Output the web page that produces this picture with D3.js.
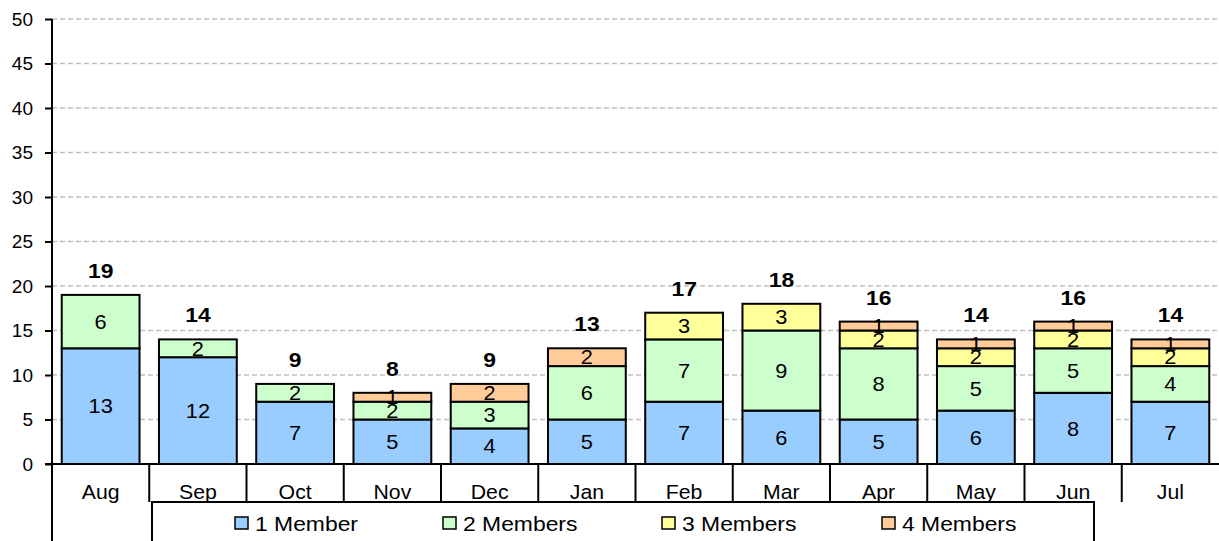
<!DOCTYPE html>
<html>
<head>
<meta charset="utf-8">
<script src="https://cdn.jsdelivr.net/npm/d3@7"></script>
<style>
  body { margin: 0; background: #fff; }
  svg { font-family: "Liberation Sans", Arial, sans-serif; }
</style>
</head>
<body>
<div id="chart"></div>
<script>
const months = ["Aug", "Sep", "Oct", "Nov", "Dec", "Jan", "Feb", "Mar", "Apr", "May", "Jun", "Jul"]
const seriesNames = ["1 Member", "2 Members", "3 Members", "4 Members"]
const seriesColors = ["#99ccff", "#ccffcc", "#ffff99", "#ffcc99"]
const oneMember = [13, 12, 7, 5, 4, 5, 7, 6, 5, 6, 8, 7]
const twoMembers = [6, 2, 2, 2, 3, 6, 7, 9, 8, 5, 5, 4]
const threeMembers = [0, 0, 0, 0, 0, 0, 3, 3, 2, 2, 2, 2]
const fourMembers = [0, 0, 0, 1, 2, 2, 0, 0, 1, 1, 1, 1]
const yTicks = [0, 5, 10, 15, 20, 25, 30, 35, 40, 45, 50]

const width = 1219, height = 541
const plotLeft = 52, plotRight = 1219, plotTop = 19, plotBottom = 464
const stretch = 1.09 // the original text is a little wider than Arial

const values = [oneMember, twoMembers, threeMembers, fourMembers]
const rows = months.map((m, i) => {
  const r = { month: m }
  seriesNames.forEach((s, k) => r[s] = values[k][i])
  return r
})
const stacked = d3.stack().keys(seriesNames)(rows)

const x = d3.scaleBand().domain(months).range([plotLeft, plotRight]).paddingInner(0.2).paddingOuter(0.1)
const y = d3.scaleLinear().domain([0, 50]).range([plotBottom, plotTop])
const cx = (m) => x(m) + x.bandwidth() / 2

const svg = d3.select("#chart").append("svg")
  .attr("width", width)
  .attr("height", height)

// dashed gridlines
svg.append("g")
  .selectAll("line")
  .data(yTicks.filter((t) => t > 0))
  .join("line")
  .attr("x1", plotLeft).attr("x2", plotRight)
  .attr("y1", (d) => y(d)).attr("y2", (d) => y(d))
  .attr("stroke", "#c0c0c0")
  .attr("stroke-width", 1.5)
  .attr("stroke-dasharray", "5,3")

// y axis
const yAxis = svg.append("g")
  .attr("transform", `translate(${plotLeft},0)`)
  .call(d3.axisLeft(y).tickValues(yTicks).tickSize(7).tickPadding(12))
yAxis.select(".domain").remove()
yAxis.selectAll(".tick line").attr("stroke", "#000").attr("stroke-width", 2)
yAxis.selectAll(".tick text").attr("fill", "#000").style("font-size", "19px").style("font-family", "Liberation Sans, Arial, sans-serif")
svg.append("line")
  .attr("x1", plotLeft).attr("x2", plotLeft).attr("y1", plotTop).attr("y2", height)
  .attr("stroke", "#000").attr("stroke-width", 2)

// bars
const layer = svg.append("g")
  .selectAll("g")
  .data(stacked)
  .join("g")
  .attr("fill", (d, i) => seriesColors[i])

layer.selectAll("rect")
  .data((d) => d.filter((p) => p[1] - p[0] > 0))
  .join("rect")
  .attr("x", (d) => x(d.data.month))
  .attr("width", x.bandwidth())
  .attr("y", (d) => y(d[1]))
  .attr("height", (d) => y(d[0]) - y(d[1]))
  .attr("stroke", "#000")
  .attr("stroke-width", 2)

// segment labels
layer.selectAll("text")
  .data((d) => d.filter((p) => p[1] - p[0] > 0))
  .join("text")
  .attr("transform", (d) => `translate(${cx(d.data.month)},${(y(d[0]) + y(d[1])) / 2}) scale(${stretch},1)`)
  .attr("dy", "0.36em")
  .attr("text-anchor", "middle")
  .attr("fill", "#000")
  .style("font-size", "20px")
  .text((d) => d[1] - d[0])

// totals
const totals = months.map((m, i) => d3.sum(values, (v) => v[i]))
svg.append("g")
  .selectAll("text")
  .data(months)
  .join("text")
  .attr("transform", (d, i) => `translate(${cx(d)},${y(totals[i]) - 17}) scale(${stretch},1)`)
  .attr("text-anchor", "middle")
  .style("font-size", "21px")
  .style("font-weight", "bold")
  .text((d, i) => totals[i])

// category axis as a table row
svg.append("line")
  .attr("x1", plotLeft - 7).attr("x2", plotRight).attr("y1", plotBottom).attr("y2", plotBottom)
  .attr("stroke", "#000").attr("stroke-width", 2)
const step = x.step()
svg.append("g")
  .selectAll("line")
  .data(months.slice(1))
  .join("line")
  .attr("x1", (d, i) => plotLeft + (i + 1) * step)
  .attr("x2", (d, i) => plotLeft + (i + 1) * step)
  .attr("y1", plotBottom).attr("y2", 502)
  .attr("stroke", "#000").attr("stroke-width", 2)
svg.append("g")
  .selectAll("text")
  .data(months)
  .join("text")
  .attr("transform", (d) => `translate(${cx(d)},491.5) scale(${stretch},1)`)
  .attr("dy", "0.36em")
  .attr("text-anchor", "middle")
  .style("font-size", "19.5px")
  .text((d) => d)

// legend
svg.append("rect")
  .attr("x", 152).attr("y", 502)
  .attr("width", 942).attr("height", 60)
  .attr("fill", "#fff").attr("stroke", "#000").attr("stroke-width", 2)
const legendX = [235, 443, 662, 882]
const legend = svg.append("g")
  .selectAll("g")
  .data(seriesNames)
  .join("g")
  .attr("transform", (d, i) => `translate(${legendX[i]},523)`)
legend.append("rect")
  .attr("x", 0).attr("y", -6)
  .attr("width", 13).attr("height", 12)
  .attr("fill", (d, i) => seriesColors[i])
  .attr("stroke", "#000").attr("stroke-width", 1.5)
legend.append("text")
  .attr("transform", `translate(20,0) scale(${stretch},1)`)
  .attr("dy", "0.36em")
  .style("font-size", "21px")
  .text((d) => d)
</script>
</body>
</html>
